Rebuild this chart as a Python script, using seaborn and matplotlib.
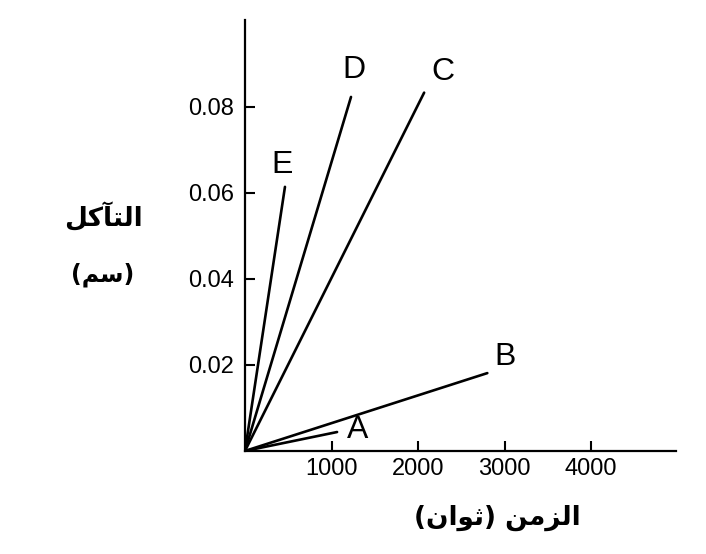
import matplotlib
matplotlib.use("Agg")
import matplotlib.pyplot as plt
import seaborn as sns
import pandas as pd

# end points of each corrosion line (all start at the origin)
series = ["A", "B", "C", "D", "E"]
end_time = [1064, 2800, 2070, 1225, 462]
end_corrosion = [0.0044, 0.0181, 0.0833, 0.0823, 0.0614]
x_ticks = [1000, 2000, 3000, 4000]
y_ticks = [0.02, 0.04, 0.06, 0.08]

# Arabic labels, pre-shaped (presentation forms, visual order)
y_label_top = "\uFEDE\uFEDB\uFE82\uFE98\uFEDF\uFE8D"        # التآكل
y_label_bottom = "(\uFEE2\uFEB3)"                           # (سم)
x_label = "(\uFEE5\uFE8D\uFEEE\uFE9B) \uFEE6\uFEE3\uFEB0\uFEDF\uFE8D"  # الزمن (ثوان)

rows = []
for s, t, c in zip(series, end_time, end_corrosion):
    rows.append({"series": s, "time": 0, "corrosion": 0})
    rows.append({"series": s, "time": t, "corrosion": c})
df = pd.DataFrame(rows)

sns.set_style("white")
plt.rcParams["font.family"] = ["Liberation Sans", "DejaVu Sans"]
plt.rcParams["text.color"] = "black"
plt.rcParams["xtick.color"] = "black"
plt.rcParams["ytick.color"] = "black"

fig = plt.figure(figsize=(7.06, 5.54), dpi=100)
ax = fig.add_axes([0.347, 0.186, 0.6105, 0.778])

sns.lineplot(data=df, x="time", y="corrosion", hue="series",
             palette={s: "black" for s in series}, units="series",
             estimator=None, linewidth=1.9, legend=False, ax=ax)

# letter labels near the line ends
label_offsets = {"A": (240, 0.0005), "B": (205, 0.0038), "C": (220, 0.0048),
                 "D": (35, 0.0063), "E": (-35, 0.0051)}
for s, t, c in zip(series, end_time, end_corrosion):
    dx, dy = label_offsets[s]
    ax.text(t + dx, c + dy, s, fontsize=23, ha="center", va="center",
            color="black")

ax.set_xlim(0, 4980)
ax.set_ylim(0, 0.1002)
ax.set_xticks(x_ticks)
ax.set_yticks(y_ticks)
ax.set_xticklabels([str(v) for v in x_ticks])
ax.set_yticklabels([f"{v:.2f}" for v in y_ticks])
ax.tick_params(direction="in", length=7, width=1.5, labelsize=17,
               left=True, bottom=True, colors="black")
ax.tick_params(axis="x", pad=5)
ax.tick_params(axis="y", pad=8)
for side in ["top", "right"]:
    ax.spines[side].set_visible(False)
for side in ["left", "bottom"]:
    ax.spines[side].set_linewidth(1.6)
    ax.spines[side].set_color("black")
ax.set_xlabel("")
ax.set_ylabel("")

fig.text(103 / 706, 1 - 218 / 554, y_label_top, family="DejaVu Sans",
         fontweight="bold", fontsize=19, ha="center", va="center")
fig.text(103 / 706, 1 - 275 / 554, y_label_bottom, family="DejaVu Sans",
         fontweight="bold", fontsize=17, ha="center", va="center")
fig.text(497 / 706, 1 - 518 / 554, x_label, family="DejaVu Sans",
         fontweight="bold", fontsize=19, ha="center", va="center")

fig.savefig("out.png", dpi=100)
